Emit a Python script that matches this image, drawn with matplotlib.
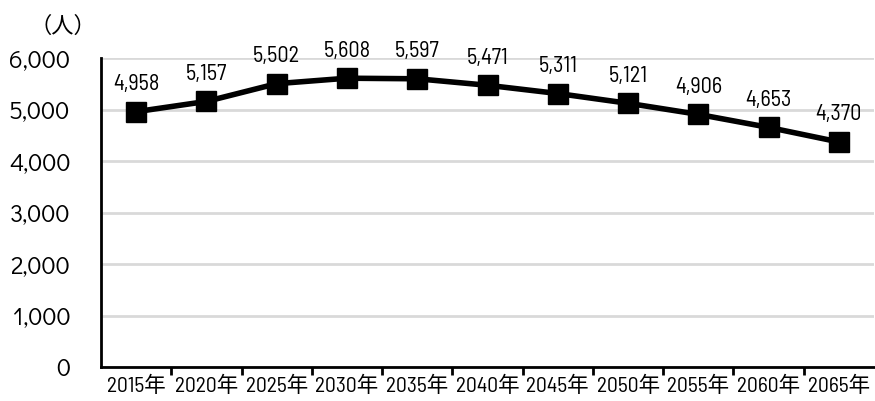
import matplotlib
matplotlib.use("Agg")
import matplotlib.pyplot as plt

years = ["2015年", "2020年", "2025年", "2030年", "2035年", "2040年",
         "2045年", "2050年", "2055年", "2060年", "2065年"]
population = [4958, 5157, 5502, 5608, 5597, 5471, 5311, 5121, 4906, 4653, 4370]
yticks = [0, 1000, 2000, 3000, 4000, 5000, 6000]

# narrow face for numbers, CJK fallback for 年 / 人
label_family = ["Barlow Semi Condensed", "Archivo Narrow", "Noto Sans CJK JP", "DejaVu Sans"]
axis_family = ["Didact Gothic", "Questrial", "DejaVu Sans"]

fig = plt.figure(figsize=(8.75, 4.01), dpi=100)
ax = fig.add_axes([0.1154, 0.0848, 0.8835, 0.7705])

x = list(range(len(years)))
ax.plot(x, population, color="black", linewidth=4, marker="s",
        markersize=14, zorder=3)
for xi, v in zip(x, population):
    ax.annotate(f"{v:,}", (xi, v), xytext=(0, 12), textcoords="offset points",
                ha="center", va="bottom", fontsize=16, color="black",
                family=label_family)

ax.set_xlim(-0.5, len(years) - 0.5)
ax.set_ylim(0, 6000)
ax.set_yticks(yticks)
ax.set_yticklabels([f"{v:,}" for v in yticks], fontsize=18, family=axis_family)
ax.grid(axis="y", color="#d9d9d9", linewidth=2)
ax.set_axisbelow(True)

# category labels at centres, tick marks on the boundaries
ax.set_xticks(x)
ax.set_xticklabels(years, fontsize=15.5, family=label_family)
ax.tick_params(axis="x", which="major", length=0, pad=6)
ax.set_xticks([i + 0.5 for i in x[:-1]], minor=True)
ax.tick_params(axis="x", which="minor", length=6, width=2, direction="out")
ax.tick_params(axis="y", length=0, pad=22)

for side in ("top", "right"):
    ax.spines[side].set_visible(False)
for side in ("left", "bottom"):
    ax.spines[side].set_linewidth(2)

fig.text(0.072, 0.935, "（人）", fontsize=16, family=["Noto Sans CJK JP"],
         ha="center", va="center")

fig.savefig("out.png", dpi=100)
